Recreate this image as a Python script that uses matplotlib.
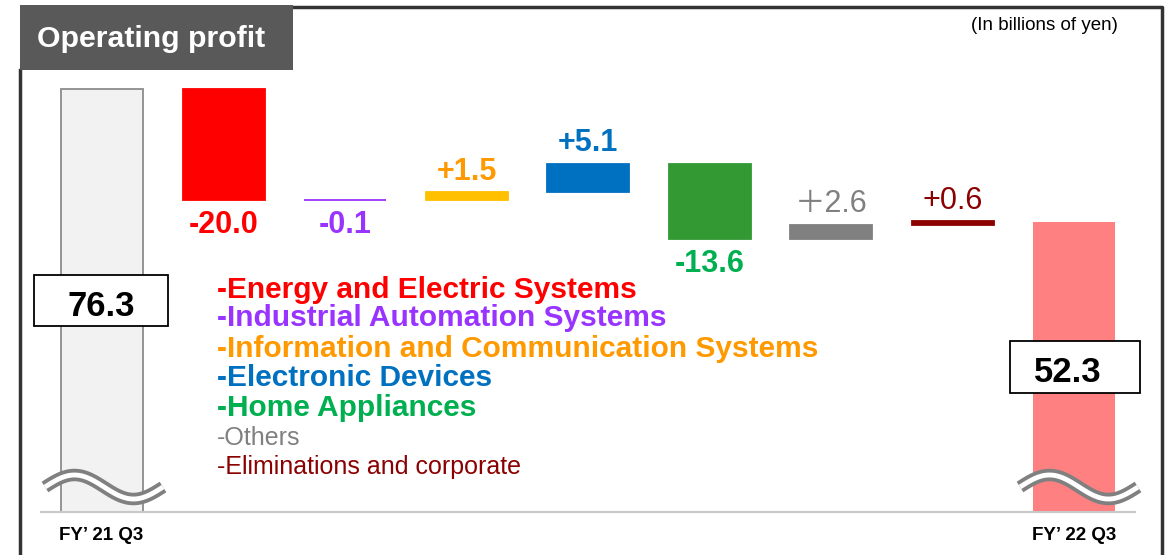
import numpy as np
import matplotlib.pyplot as plt
from matplotlib.patches import Rectangle

# data
start_label = "FY’ 21 Q3"
end_label = "FY’ 22 Q3"
start_val = 76.3
end_val = 52.3
segments = ["Energy and Electric Systems", "Industrial Automation Systems",
            "Information and Communication Systems", "Electronic Devices",
            "Home Appliances", "Others", "Eliminations and corporate"]
deltas = [-20.0, -0.1, 1.5, 5.1, -13.6, 2.6, 0.6]
delta_text = ["-20.0", "-0.1", "+1.5", "+5.1", "-13.6", "＋2.6", "+0.6"]

bar_colors = ["#ff0000", "#9933ff", "#ffc000", "#0070c0", "#339933", "#808080", "#8b0000"]
text_colors = ["#ff0000", "#9933ff", "#ff9900", "#0070c0", "#00b050", "#808080", "#8b0000"]
bold = [True, True, True, True, True, False, False]

plt.rcParams['font.family'] = ['Liberation Sans', 'Noto Sans CJK JP', 'DejaVu Sans']

W, H = 1168, 555
fig = plt.figure(figsize=(W / 100, H / 100), dpi=100)
ax = fig.add_axes([0, 0, 1, 1])
# pixel mapping: x = 102 + 121.5*i, y = 512 - 5.544*v
ax.set_xlim((0 - 102) / 121.5, (W - 102) / 121.5)
ax.set_ylim((512 - H) / 5.544, 512 / 5.544)
ax.axis('off')

def fx(px):
    return np.asarray(px) / W

def fy(py):
    return 1 - np.asarray(py) / H

bw = 82 / 121.5

# start / end bars
ax.bar(0, start_val, width=bw, color="#f2f2f2", edgecolor="#8c8c8c", linewidth=1.3, zorder=2)
ax.bar(8, end_val, width=bw, color="#ff8080", edgecolor="none", zorder=2)

# waterfall steps
level = start_val
for i, d in enumerate(deltas):
    bottom = level if d > 0 else level + d
    ax.bar(i + 1, abs(d), bottom=bottom, width=bw, color=bar_colors[i],
           edgecolor=bar_colors[i], linewidth=1.3, zorder=3)
    if d < 0:
        ax.annotate(delta_text[i], (i + 1, bottom), xytext=(0, -7), textcoords='offset points',
                    ha='center', va='top', fontsize=22, color=text_colors[i],
                    fontweight='bold' if bold[i] else 'normal')
    else:
        ax.annotate(delta_text[i], (i + 1, bottom + d), xytext=(0, 4), textcoords='offset points',
                    ha='center', va='bottom', fontsize=22, color=text_colors[i],
                    fontweight='bold' if bold[i] else 'normal')
    level += d

# baseline
ax.plot(fx([41, 1135]), fy([512, 512]), transform=ax.transAxes, color="#c8c8c8", lw=1.5, zorder=4)

# value boxes
for (x0, y0, x1, y1), (tx, ty), val in [((34, 275, 168, 326), (101, 306), start_val),
                                        ((1010, 341, 1140, 393), (1068, 373), end_val)]:
    ax.add_patch(Rectangle((fx(x0), fy(y1)), fx(x1 - x0), (y1 - y0) / H, transform=ax.transAxes,
                           facecolor='white', edgecolor='black', lw=1.3, zorder=6))
    ax.text(fx(tx), fy(ty), f"{val:.1f}", transform=ax.transAxes,
            ha='center', va='center', fontsize=25, fontweight='bold', zorder=7)

# break marks
for x0 in [45, 1020]:
    t = np.linspace(0, 1, 100)
    xs = x0 + 118 * t
    ys = 487 - 12 * np.sin(2 * np.pi * t)
    ax.plot(fx(xs), fy(ys), transform=ax.transAxes, color="#808080", lw=9, solid_capstyle='butt', zorder=5)
    ax.plot(fx(xs), fy(ys), transform=ax.transAxes, color="white", lw=3.5, solid_capstyle='butt', zorder=5)

# x labels
ax.text(fx(101), fy(535), start_label, transform=ax.transAxes, ha='center', va='center',
        fontsize=13.5, fontweight='bold')
ax.text(fx(1074), fy(535), end_label, transform=ax.transAxes, ha='center', va='center',
        fontsize=13.5, fontweight='bold')

# segment list
ys_list = [290, 318, 349, 378, 408, 438, 467]
for i, name in enumerate(segments):
    ax.text(fx(217), fy(ys_list[i]), "-" + name, transform=ax.transAxes, ha='left', va='center',
            fontsize=21.5 if bold[i] else 18, color=text_colors[i],
            fontweight='bold' if bold[i] else 'normal')

# frame and title
ax.plot(fx([20, 20]), fy([555, 70]), transform=ax.transAxes, color="#333333", lw=2.5, zorder=1)
ax.plot(fx([292, 1162, 1162]), fy([7, 7, 555]), transform=ax.transAxes,
        color="#333333", lw=2.5, zorder=1)
ax.add_patch(Rectangle((fx(20), fy(70)), fx(273), 65 / H, transform=ax.transAxes,
                       facecolor="#595959", edgecolor='none', zorder=6))
ax.text(fx(37), fy(39), "Operating profit", transform=ax.transAxes, ha='left', va='center',
        fontsize=21.8, fontweight='bold', color='white', zorder=7)
ax.text(fx(1118), fy(25), "(In billions of yen)", transform=ax.transAxes, ha='right', va='center',
        fontsize=13.5)

fig.savefig("out.png", dpi=100)
